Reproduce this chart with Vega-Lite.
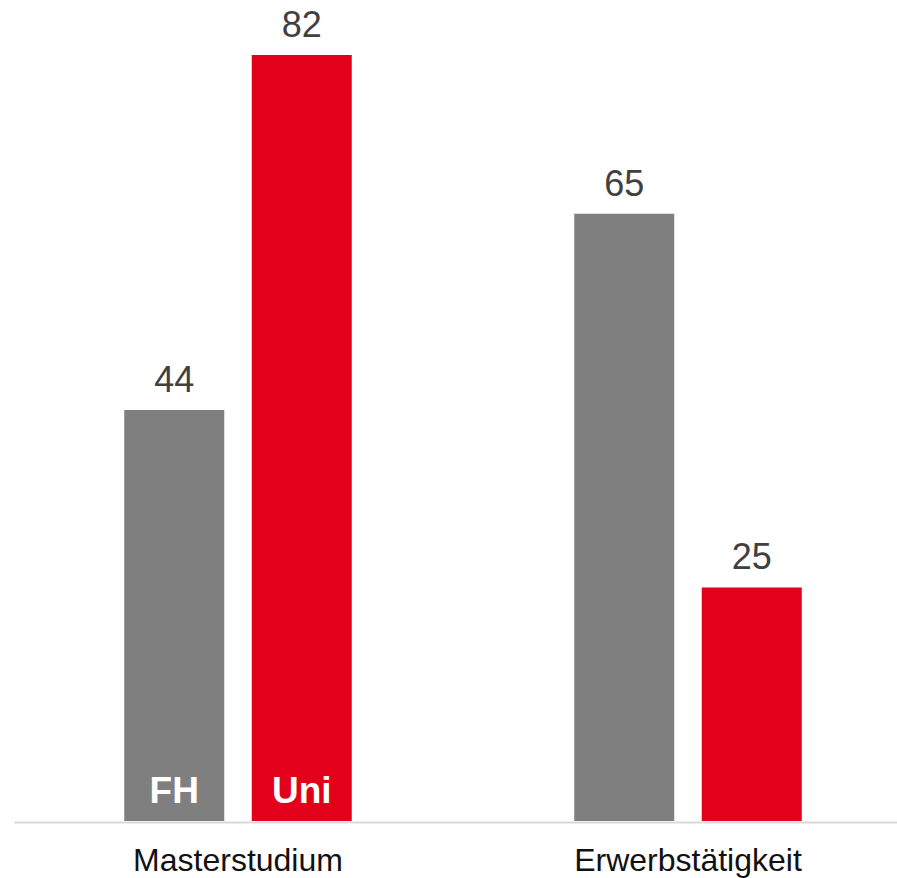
{
  "$schema": "https://vega.github.io/schema/vega-lite/v6.json",
  "width": 883,
  "height": 794,
  "autosize": {"type": "none"},
  "padding": {"left": 14, "top": 27, "right": 0, "bottom": 57},
  "background": "white",
  "config": {"view": {"stroke": null}, "font": "Liberation Sans"},
  "data": {
    "values": [
      {"category": "Masterstudium", "type": "FH", "value": 44, "inner": "FH"},
      {"category": "Masterstudium", "type": "Uni", "value": 82, "inner": "Uni"},
      {"category": "Erwerbstätigkeit", "type": "FH", "value": 65, "inner": ""},
      {"category": "Erwerbstätigkeit", "type": "Uni", "value": 25, "inner": ""}
    ]
  },
  "encoding": {
    "x": {
      "field": "category",
      "type": "nominal",
      "sort": ["Masterstudium", "Erwerbstätigkeit"],
      "title": null,
      "scale": {"paddingInner": 0.07111, "paddingOuter": 0.016667, "align": 1},
      "axis": {
        "domainColor": "#d9d9d9",
        "domainWidth": 2,
        "ticks": false,
        "tickSize": 0,
        "grid": false,
        "offset": 1,
        "labelAngle": 0,
        "labelLimit": 0,
        "labelPadding": 48,
        "labelBaseline": "alphabetic",
        "labelFontSize": 32,
        "labelFont": "Liberation Sans",
        "labelColor": "#111111"
      }
    },
    "xOffset": {
      "field": "type",
      "type": "nominal",
      "sort": ["FH", "Uni"],
      "scale": {"paddingInner": 0.2157, "paddingOuter": 0.7471}
    },
    "y": {
      "field": "value",
      "type": "quantitative",
      "scale": {"domain": [0, 85], "nice": false, "zero": true},
      "axis": null
    }
  },
  "layer": [
    {
      "mark": {"type": "bar"},
      "encoding": {
        "color": {
          "field": "type",
          "type": "nominal",
          "scale": {"domain": ["FH", "Uni"], "range": ["#7f7f7f", "#e2001a"]},
          "legend": null
        }
      }
    },
    {
      "mark": {"type": "text", "dy": -18, "baseline": "alphabetic", "fontSize": 36, "color": "#404040", "font": "Liberation Sans"},
      "encoding": {"text": {"field": "value", "type": "quantitative"}}
    },
    {
      "mark": {"type": "text", "dy": -18, "baseline": "alphabetic", "fontSize": 37, "fontWeight": "bold", "color": "white", "font": "Liberation Sans"},
      "encoding": {
        "y": {"datum": 0},
        "text": {"field": "inner", "type": "nominal"}
      }
    }
  ]
}
